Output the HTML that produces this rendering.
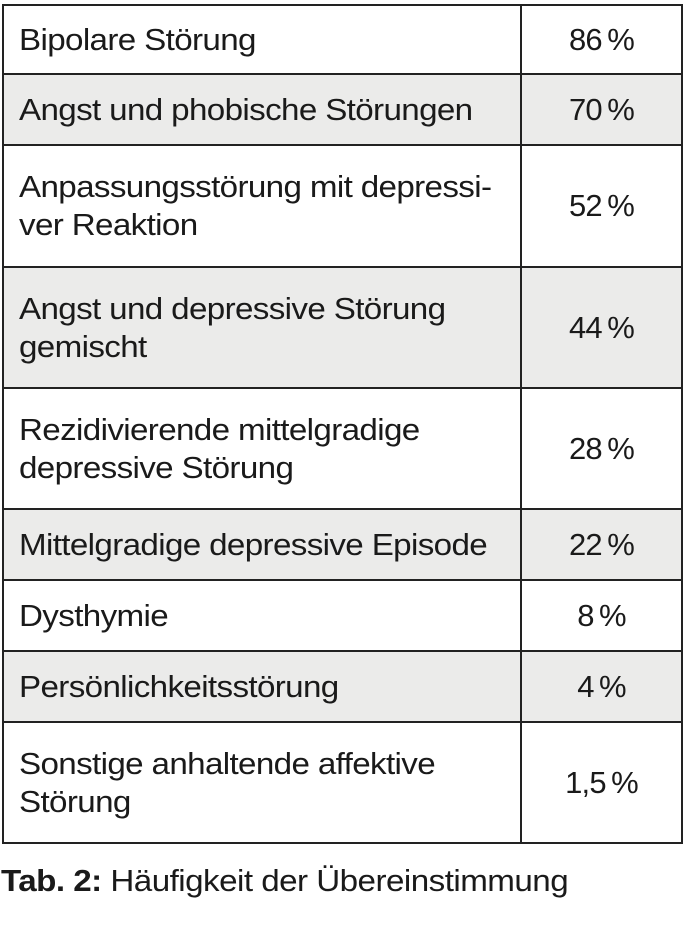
<!DOCTYPE html>
<html><head><meta charset="utf-8">
<style>
body{margin:0;width:685px;height:948px;background:#fff;position:relative;overflow:hidden;font-family:"Liberation Sans",sans-serif;color:#1a1a1a}
.row{position:absolute;left:2px;width:681px;border:2px solid #222;box-sizing:border-box;margin-top:-2px}
.row.g{background:#ebebea}
.lab{position:absolute;left:15px;top:50%;transform:translateY(-50%) scaleX(1.07);transform-origin:left center;font-size:31px;line-height:38px;letter-spacing:-0.6px;width:460px;white-space:nowrap}
.val{position:absolute;left:516px;right:0;top:0;bottom:0;border-left:2px solid #222;display:flex;align-items:center;justify-content:center;font-size:31px;letter-spacing:-0.8px}
.cap{position:absolute;left:1px;top:863px;font-size:31px;letter-spacing:-0.5px;transform:scaleX(1.07);transform-origin:left center;white-space:nowrap}
</style></head><body>
<div id="tbl"></div>
<div class="cap"><b>Tab. 2:</b> Häufigkeit der Übereinstimmung</div>
<script>
const labels=["Bipolare Störung","Angst und phobische Störungen","Anpassungsstörung mit depressi-<br>ver Reaktion","Angst und depressive Störung<br>gemischt","Rezidivierende mittelgradige<br>depressive Störung","Mittelgradige depressive Episode","Dysthymie","Persönlichkeitsstörung","Sonstige anhaltende affektive<br>Störung"];
const values=["86 %","70 %","52 %","44 %","28 %","22 %","8 %","4 %","1,5 %"];
const bounds=[4,75,146,268,389,510,581,652,723,844];
const tbl=document.getElementById('tbl');
labels.forEach((l,i)=>{
  const r=document.createElement('div');
  
  
  r.className='row'+(i%2?' g':'');
  r.style.top=(bounds[i]+(i?0:2))+'px';
  r.style.height=(bounds[i+1]-bounds[i]+(i?2:0))+'px';
  const a=document.createElement('div');
  
  
  a.className='lab';a.innerHTML=l;
  const v=document.createElement('div');
  
  
  v.className='val';v.textContent=values[i].replace(' ','\u2009');
  r.appendChild(a);r.appendChild(v);tbl.appendChild(r);
});
</script>
</body></html>
